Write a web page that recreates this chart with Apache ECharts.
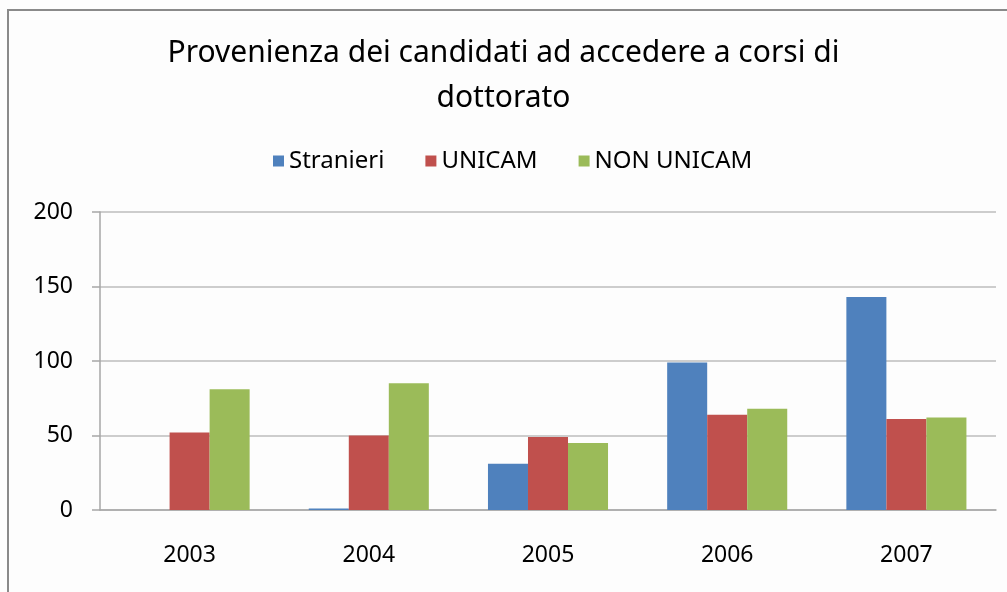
<!DOCTYPE html>
<html>
<head>
<meta charset="utf-8">
<script src="https://cdn.jsdelivr.net/npm/echarts@6/dist/echarts.min.js"></script>
<style>
  html, body { margin: 0; padding: 0; background: #fff; }
  #main { width: 1007px; height: 592px; }
</style>
</head>
<body>
<div id="main"></div>
<script>
// dati
var anni = ['2003', '2004', '2005', '2006', '2007'];
var stranieri = [0, 1, 31, 99, 143];
var unicam = [52, 50, 49, 64, 61];
var nonUnicam = [81, 85, 45, 68, 62];

var font = '"Noto Sans", sans-serif';

var chart = echarts.init(document.getElementById('main'));

chart.setOption({
    backgroundColor: '#fdfdfd',
    animation: false,
    // cornice del grafico (come in Excel)
    graphic: [{
        type: 'rect',
        shape: { x: 8, y: 10, width: 1030, height: 620 },
        style: { fill: 'none', stroke: '#8a8a8a', lineWidth: 2 },
        silent: true
    }],
    title: {
        text: 'Provenienza dei candidati ad accedere a corsi di\ndottorato',
        left: 'center',
        top: 26,
        textStyle: {
            fontFamily: font,
            fontSize: 30,
            fontWeight: 'normal',
            color: '#000',
            lineHeight: 45
        }
    },
    legend: {
        top: 144,
        left: 268,
        itemWidth: 11,
        itemHeight: 11,
        itemGap: 41,
        icon: 'rect',
        textStyle: { fontFamily: font, fontSize: 24, color: '#000' },
        data: ['Stranieri', 'UNICAM', 'NON UNICAM']
    },
    grid: { left: 100, right: 11, top: 212, bottom: 82 },
    xAxis: {
        type: 'category',
        data: anni,
        axisLine: { lineStyle: { color: '#a6a6a6', width: 1.5 } },
        axisTick: { length: 8, lineStyle: { color: '#a6a6a6', width: 1.5 } },
        axisLabel: { margin: 34, fontFamily: font, fontSize: 23, color: '#000' }
    },
    yAxis: {
        type: 'value',
        min: 0,
        max: 200,
        interval: 50,
        axisLine: { show: true, lineStyle: { color: '#a6a6a6', width: 1.5 } },
        axisTick: { show: true, length: 8, lineStyle: { color: '#a6a6a6', width: 1.5 } },
        splitLine: { lineStyle: { color: '#bdbdbd', width: 1.5 } },
        axisLabel: { margin: 27, fontFamily: font, fontSize: 23, color: '#000' }
    },
    series: [
        {
            name: 'Stranieri', type: 'bar', data: stranieri,
            barGap: '0%', barCategoryGap: '33%',
            itemStyle: { color: '#4f81bd' }
        },
        {
            name: 'UNICAM', type: 'bar', data: unicam,
            itemStyle: { color: '#c0504d' }
        },
        {
            name: 'NON UNICAM', type: 'bar', data: nonUnicam,
            itemStyle: { color: '#9bbb59' }
        }
    ]
});
</script>
</body>
</html>
